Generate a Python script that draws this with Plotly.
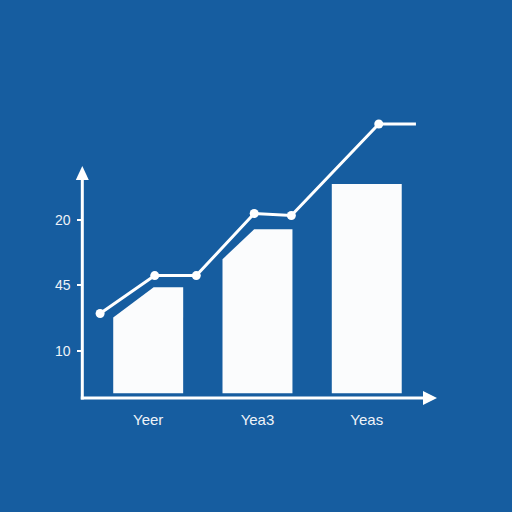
import plotly.graph_objects as go

# category axis
years = ["Yeer", "Yea3", "Yeas"]
year_pos = [0, 1, 2]

# y ticks as printed on the chart (bottom to top)
y_tick_vals = [10, 20, 30]
y_tick_text = ["10", "45", "20"]

# bars: value at the left edge, value of the flat top, x where the slope meets the flat top
bar_left = [15.1, 24.0, 35.5]
bar_top = [19.7, 28.6, 35.5]
bar_knee = [0.05, 0.97, 1.68]
bar_base = 3.5
bar_width = 0.64

# trend line
line_x = [-0.44, 0.06, 0.44, 0.97, 1.31, 2.11, 2.45]
line_y = [15.7, 21.5, 21.5, 31.0, 30.7, 44.7, 44.7]
line_dot = [9, 9, 9, 9, 9, 9, 0]

BG = "#165da0"
FG = "white"
W = H = 512


def px(x):
    return x / W


def py(y):
    return 1 - y / H


fig = go.Figure()

for i in range(len(years)):
    l = year_pos[i] - bar_width / 2
    r = year_pos[i] + bar_width / 2
    fig.add_trace(go.Scatter(
        x=[l, l, bar_knee[i], r, r, l],
        y=[bar_base, bar_left[i], bar_top[i], bar_top[i], bar_base, bar_base],
        fill="toself", fillcolor="#fbfcfd", mode="lines",
        line=dict(width=0, color="#fbfcfd"), hoverinfo="skip", showlegend=False))

fig.add_trace(go.Scatter(
    x=line_x, y=line_y, mode="lines+markers",
    line=dict(color=FG, width=3),
    marker=dict(size=line_dot, color=FG, opacity=1, line=dict(width=0)),
    showlegend=False))

# axis lines with arrow heads
ax_x = 82.3
ax_y = 398
shapes = [
    dict(type="line", xref="paper", yref="paper", x0=px(ax_x), x1=px(ax_x),
         y0=py(ax_y + 1.5), y1=py(178), line=dict(color=FG, width=3)),
    dict(type="path", xref="paper", yref="paper",
         path=f"M {px(ax_x)} {py(166)} L {px(ax_x - 6.5)} {py(180)} L {px(ax_x + 6.5)} {py(180)} Z",
         fillcolor=FG, line=dict(width=0)),
    dict(type="line", xref="paper", yref="paper", x0=px(ax_x - 1.5), x1=px(425),
         y0=py(ax_y), y1=py(ax_y), line=dict(color=FG, width=3)),
    dict(type="path", xref="paper", yref="paper",
         path=f"M {px(437)} {py(ax_y)} L {px(423)} {py(ax_y - 7)} L {px(423)} {py(ax_y + 7)} Z",
         fillcolor=FG, line=dict(width=0)),
]

fig.update_layout(
    width=W, height=H,
    margin=dict(l=0, r=0, t=0, b=0),
    paper_bgcolor=BG, plot_bgcolor=BG,
    font=dict(family="Liberation Sans, Arial, sans-serif", color=FG),
    shapes=shapes,
    xaxis=dict(range=[-1.356, 3.329], tickvals=year_pos, ticktext=years,
               showgrid=False, zeroline=False, showline=False, ticks="",
               anchor="free", position=py(ax_y), ticklabelstandoff=11,
               tickfont=dict(size=15, color="#eef3f8")),
    yaxis=dict(range=[-14.68, 63.67], tickvals=y_tick_vals, ticktext=y_tick_text,
               showgrid=False, zeroline=False, showline=False,
               ticks="outside", ticklen=5, tickwidth=2, tickcolor=FG,
               anchor="free", position=px(ax_x), ticklabelstandoff=4,
               tickfont=dict(size=14, color="#eef3f8")),
)

# drop the browser's default body margin so the 512px figure fills the window
fig.write_html("out.html", config={"displayModeBar": False},
               post_script="document.body.style.margin='0';")
